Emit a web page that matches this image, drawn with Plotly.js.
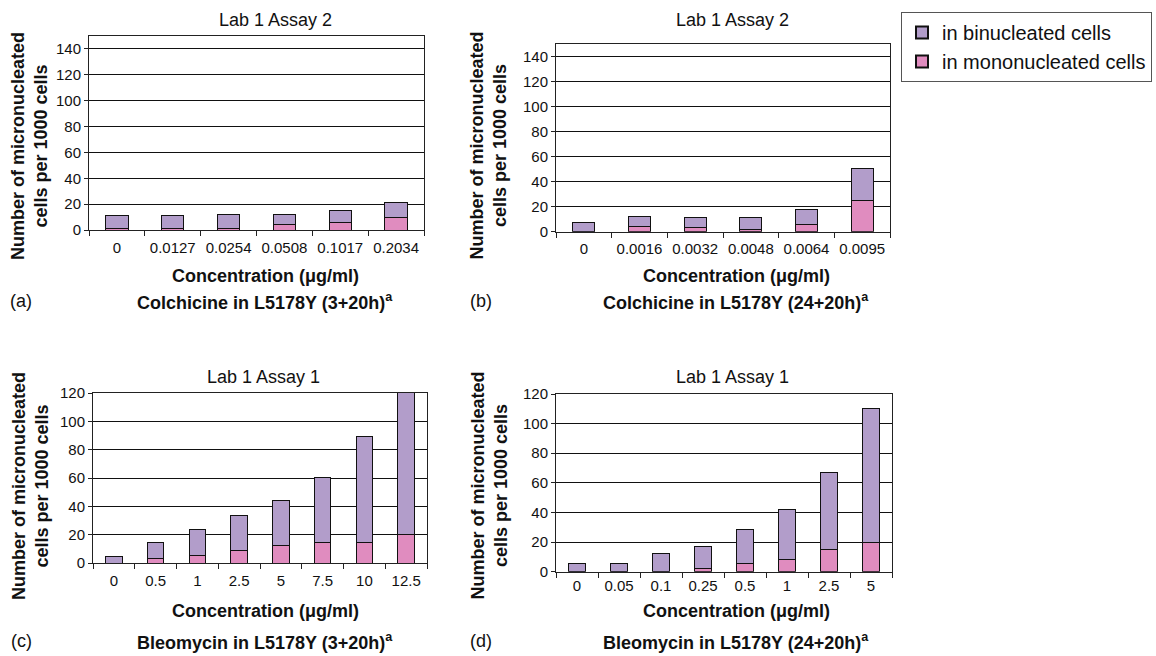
<!DOCTYPE html>
<html>
<head>
<meta charset="utf-8">
<script src="https://cdn.plot.ly/plotly-3.0.1.min.js"></script>
<style>html,body{margin:0;padding:0;background:#fff;}#chart{width:1156px;height:656px;}</style>
</head>
<body>
<div id="chart"></div>
<script>
// ---- data ----
const catA = ['0','0.0127','0.0254','0.0508','0.1017','0.2034'];
const monoA = [1, 1, 1, 4, 6, 10];
const biA   = [10, 10, 11, 8, 9, 11.5];

const catB = ['0','0.0016','0.0032','0.0048','0.0064','0.0095'];
const monoB = [0, 4, 3, 2, 6, 25];
const biB   = [7, 8.5, 8, 9, 12, 25.5];

const catC = ['0','0.5','1','2.5','5','7.5','10','12.5'];
const monoC = [0, 3, 5.5, 9, 12.5, 14.5, 14.5, 20];
const biC   = [4.5, 11.3, 18.3, 24.5, 31.7, 46, 74.5, 105];

const catD = ['0','0.05','0.1','0.25','0.5','1','2.5','5'];
const monoD = [0, 0, 0, 2.5, 5.3, 8.5, 15, 20];
const biD   = [5.5, 5.5, 12, 14.5, 23, 33.5, 51.7, 90];

const panelTitles = ['Lab 1 Assay 2','Lab 1 Assay 2','Lab 1 Assay 1','Lab 1 Assay 1'];
const captions = ['Colchicine in L5178Y (3+20h)<sup>a</sup>','Colchicine in L5178Y (24+20h)<sup>a</sup>',
                  'Bleomycin in L5178Y (3+20h)<sup>a</sup>','Bleomycin in L5178Y (24+20h)<sup>a</sup>'];
const letters = ['(a)','(b)','(c)','(d)'];
const seriesNames = ['in mononucleated cells','in binucleated cells'];

// ---- layout helpers ----
const W = 1156, H = 656;
const X = px => px / W;
const Y = py => 1 - py / H;
const FONT = 'Liberation Sans, Arial, sans-serif';
const PURPLE = '#b29dca', PINK = '#e08cbf';

const panels = [
  {cats: catA, mono: monoA, bi: biA, box: [89, 424, 36, 230], range: [0,150], xc: 265, tc: 275, ty: 20, xt: 276, cy: 301, yt: 146, ytx: 30, lx: 21, std: 4},
  {cats: catB, mono: monoB, bi: biB, box: [556, 890, 44.3, 231.7], range: [0,150], xc: 736, tc: 732, ty: 20, xt: 276, cy: 301, yt: 146, ytx: 488.5, lx: 481, std: 3},
  {cats: catC, mono: monoC, bi: biC, box: [93, 427, 393, 563], range: [0,120], xc: 265, tc: 263, ty: 377, xt: 611, cy: 641, yt: 486, ytx: 30, lx: 21, std: 4},
  {cats: catD, mono: monoD, bi: biD, box: [556, 892, 394, 571.7], range: [0,120], xc: 736, tc: 732, ty: 377, xt: 611, cy: 641, yt: 486, ytx: 488.5, lx: 481, std: 0}
];

const traces = [];
const layout = {
  width: W, height: H,
  margin: {l: 0, r: 0, t: 0, b: 0},
  paper_bgcolor: '#fff', plot_bgcolor: '#fff',
  barmode: 'stack', bargap: 0.6,
  font: {family: FONT, color: '#111', size: 15},
  showlegend: true,
  legend: {
    x: X(901), y: Y(12), xanchor: 'left', yanchor: 'top',
    bordercolor: '#555', borderwidth: 1, bgcolor: '#fff',
    traceorder: 'reversed',
    font: {family: FONT, size: 20, color: '#111'},
    itemsizing: 'constant', tracegroupgap: 0
  },
  annotations: []
};

panels.forEach((p, i) => {
  const n = i === 0 ? '' : String(i + 1);
  const xa = 'x' + n, ya = 'y' + n;
  traces.push({
    type: 'bar', x: p.cats, y: p.mono, xaxis: xa, yaxis: ya,
    name: seriesNames[0], legendgroup: 'mono', showlegend: i === 0,
    marker: {color: PINK, line: {color: '#111', width: 1}}, hoverinfo: 'skip'
  });
  traces.push({
    type: 'bar', x: p.cats, y: p.bi, xaxis: xa, yaxis: ya,
    name: seriesNames[1], legendgroup: 'bi', showlegend: i === 0,
    marker: {color: PURPLE, line: {color: '#111', width: 1}}, hoverinfo: 'skip'
  });
  const [l, r, t, b] = p.box;
  layout['xaxis' + n] = {
    domain: [X(l), X(r)], anchor: ya, type: 'category',
    showline: true, mirror: true, linecolor: '#222', linewidth: 1,
    ticks: 'outside', ticklen: 5, tickcolor: '#222', tickson: 'boundaries',
    showgrid: false, zeroline: false, fixedrange: true,
    ticklabelstandoff: p.std,
    tickfont: {family: FONT, size: 15, color: '#111'}
  };
  layout['yaxis' + n] = {
    domain: [Y(b), Y(t)], anchor: xa, range: p.range, dtick: 20,
    showline: true, mirror: true, linecolor: '#222', linewidth: 1,
    ticks: 'outside', ticklen: 4, tickcolor: '#222',
    showgrid: true, gridcolor: '#111', gridwidth: 1, zeroline: false, fixedrange: true,
    tickfont: {family: FONT, size: 15, color: '#111'}
  };
  const ann = (text, x, y, size, extra) => layout.annotations.push(Object.assign({
    text: text, x: X(x), y: Y(y), xref: 'paper', yref: 'paper',
    xanchor: 'center', yanchor: 'middle', showarrow: false,
    font: {family: FONT, size: size, color: '#111'}
  }, extra || {}));
  ann(panelTitles[i], p.tc, p.ty, 18);
  ann('<b>Concentration (μg/ml)</b>', p.xc, p.xt, 18);
  ann('<b>' + captions[i] + '</b>', p.xc, p.cy, 18);
  ann(letters[i], p.lx, p.cy, 18);
  ann('<b>Number of micronucleated<br>cells per 1000 cells</b>', p.ytx, p.yt, 18, {textangle: -90});
});

Plotly.newPlot('chart', traces, layout, {displayModeBar: false, staticPlot: true});
</script>
</body>
</html>
